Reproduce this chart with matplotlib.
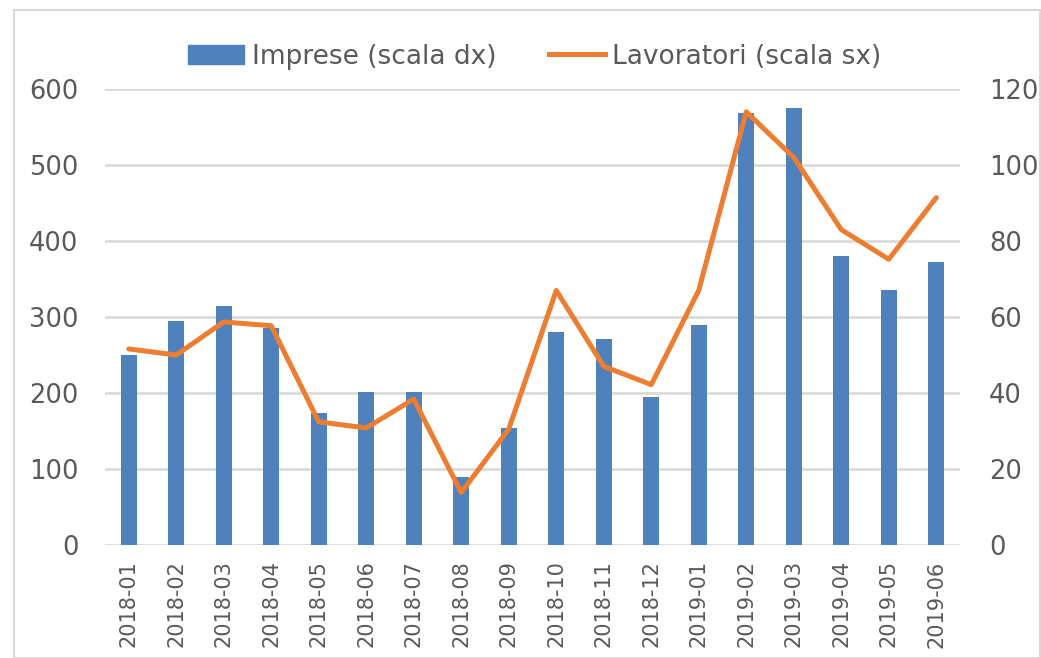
import matplotlib
matplotlib.use("Agg")
import matplotlib.pyplot as plt
from matplotlib.patches import Rectangle, Patch
from matplotlib.lines import Line2D

categories = ["2018-01", "2018-02", "2018-03", "2018-04", "2018-05", "2018-06",
              "2018-07", "2018-08", "2018-09", "2018-10", "2018-11", "2018-12",
              "2019-01", "2019-02", "2019-03", "2019-04", "2019-05", "2019-06"]
imprese = [250, 295, 315, 286, 174, 201, 201, 89, 154, 280, 271, 195,
           289, 569, 575, 380, 336, 372]
lavoratori = [51.6, 50, 58.7, 57.7, 32.4, 30.8, 38.4, 13.8, 30.5, 67, 47, 42.2,
              67, 114, 102, 83, 75.2, 91.4]

left_ticks = [0, 100, 200, 300, 400, 500, 600]
right_ticks = [0, 20, 40, 60, 80, 100, 120]

BLUE = "#4F81BD"
ORANGE = "#ED7D31"
GRID = "#D9D9D9"
TXT = "#595959"

fig = plt.figure(figsize=(10.41, 6.58), dpi=100)
fig.patches.append(Rectangle((14 / 1041, 0), 1 - 14 / 1041 - 0.001, 1 - 10 / 658,
                             transform=fig.transFigure, fill=False,
                             edgecolor=GRID, linewidth=1.5))

ax = fig.add_axes([105 / 1041, 1 - 545 / 658, (960 - 105) / 1041, (545 - 89) / 658])
x = list(range(len(categories)))
ax.bar(x, imprese, width=0.33, color=BLUE, zorder=2)
ax.set_xlim(-0.5, len(categories) - 0.5)
ax.set_ylim(0, 600)
ax.set_yticks(left_ticks)
ax.set_xticks(x)
ax.set_xticklabels(categories, rotation=90, fontsize=15, color=TXT)
ax.grid(axis="y", color=GRID, linewidth=1.9, zorder=0)
ax.set_axisbelow(True)
for s in ax.spines.values():
    s.set_visible(False)
ax.tick_params(axis="y", length=0, pad=19, labelsize=18.5, labelcolor=TXT)
ax.tick_params(axis="x", length=0, pad=11, labelcolor=TXT)

ax2 = ax.twinx()
ax2.plot(x, lavoratori, color=ORANGE, linewidth=3.6, zorder=3,
         solid_joinstyle="round", solid_capstyle="round")
ax2.set_ylim(0, 120)
ax2.set_yticks(right_ticks)
for s in ax2.spines.values():
    s.set_visible(False)
ax2.tick_params(axis="y", length=0, pad=21, labelsize=18.5, labelcolor=TXT)

handles = [Patch(color=BLUE), Line2D([], [], color=ORANGE, linewidth=3.6)]
labels = ["Imprese (scala dx)", "Lavoratori (scala sx)"]
leg = fig.legend(handles, labels, loc="center", bbox_to_anchor=(0.514, 0.914),
                 ncol=2, frameon=False, fontsize=19, handlelength=2.1,
                 handletextpad=0.3, columnspacing=2.0)
for t in leg.get_texts():
    t.set_color(TXT)

fig.savefig("out.png", dpi=100)
